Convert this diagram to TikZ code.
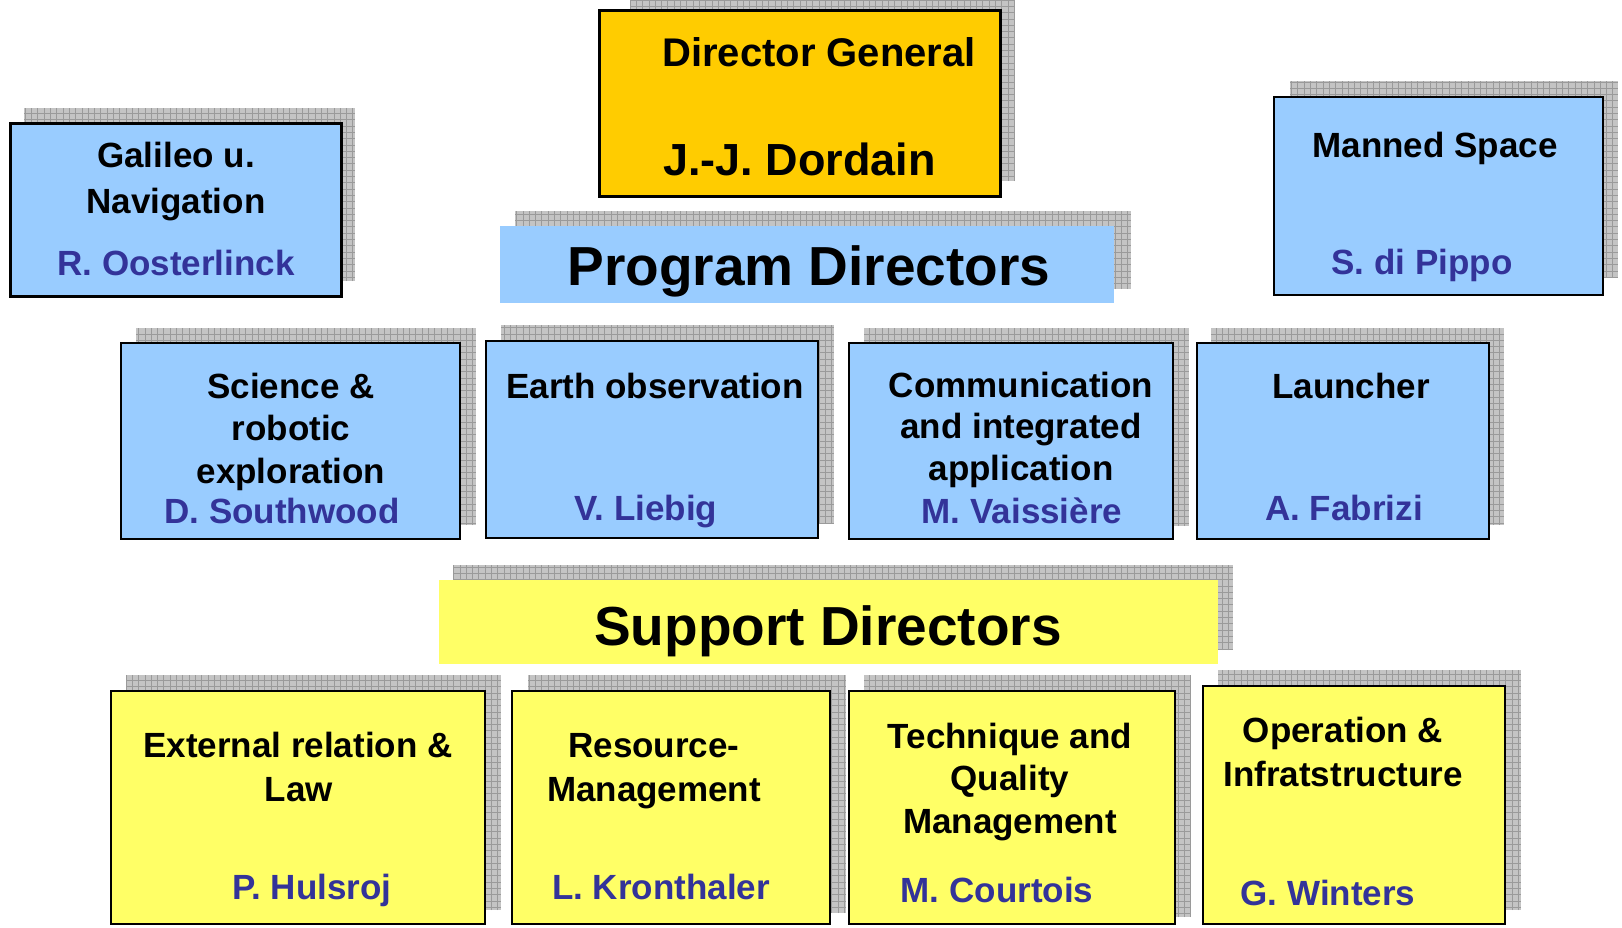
\documentclass[tikz,border=0pt]{standalone}
\usepackage{fontspec}
\setmainfont{Liberation Sans}
\definecolor{boxblue}{HTML}{99CCFF}
\definecolor{boxyellow}{HTML}{FFFF66}
\definecolor{dgorange}{HTML}{FFCC00}
\definecolor{namecol}{HTML}{333399}
\definecolor{shfill}{HTML}{C4C4C4}
\definecolor{shline}{HTML}{9A9A9A}
\newcommand\shbox[4]{%
  \fill[shfill] (#1,#2) rectangle (#3,#4);
  \begin{scope}
    \clip (#1,#2) rectangle (#3,#4);
    \draw[shline, line width=0.7pt, step=6.3pt] (#1,#2) grid (#3,#4);
  \end{scope}}
\tikzset{
  orgbox/.style={rectangle, inner sep=0pt, outer sep=0pt, draw=black, line width=1.8pt},
  bluebox/.style={orgbox, fill=boxblue},
  yelbox/.style={orgbox, fill=boxyellow},
  thickbox/.style={line width=3pt},
  band/.style={rectangle, inner sep=0pt, outer sep=0pt},
  ttl/.style={anchor=base, inner sep=0pt, font=\bfseries\fontsize{35}{42}\selectfont},
  nm/.style={ttl, text=namecol},
  bigttl/.style={anchor=base, inner sep=0pt, font=\bfseries\fontsize{55}{66}\selectfont},
}
\begin{document}
\begin{tikzpicture}[x=1pt,y=-1pt]
\useasboundingbox[fill=white] (0,0) rectangle (1622,927);

% shadows
\shbox{24}{108}{355}{281}
\shbox{630}{0}{1015}{181}
\shbox{1290}{81}{1618}{278}
\shbox{515}{211}{1131}{289}
\shbox{136}{328}{476}{525}
\shbox{501}{325}{834}{523}
\shbox{864}{328}{1189}{526}
\shbox{1211}{328}{1504}{525}
\shbox{453}{565}{1233}{650}
\shbox{126}{675}{501}{910}
\shbox{528}{675}{846}{913}
\shbox{864}{675}{1191}{917}
\shbox{1218}{670}{1521}{910}

% boxes
\node[bluebox, thickbox, minimum width=331pt, minimum height=173pt] (gal) at (175.5,209.5) {};
\node[orgbox, thickbox, fill=dgorange, minimum width=401pt, minimum height=186pt] (dg) at (799.5,103) {};
\node[bluebox, minimum width=329pt, minimum height=198pt] (man) at (1438.5,196) {};
\node[band, fill=boxblue, minimum width=614pt, minimum height=77pt] (prog) at (807,264.5) {};
\node[bluebox, minimum width=339pt, minimum height=196pt] (sci) at (290.5,441) {};
\node[bluebox, minimum width=332pt, minimum height=197pt] (earth) at (652,439.5) {};
\node[bluebox, minimum width=324pt, minimum height=196pt] (comm) at (1011,441) {};
\node[bluebox, minimum width=292pt, minimum height=196pt] (laun) at (1343,441) {};
\node[band, fill=boxyellow, minimum width=779pt, minimum height=84pt] (supp) at (828.5,622) {};
\node[yelbox, minimum width=374pt, minimum height=233pt] (ext) at (298,807.5) {};
\node[yelbox, minimum width=318pt, minimum height=233pt] (res) at (671,807.5) {};
\node[yelbox, minimum width=326pt, minimum height=233pt] (tech) at (1012,807.5) {};
\node[yelbox, minimum width=302pt, minimum height=238pt] (oper) at (1354,805) {};

% texts
\node[ttl] (galA) at (176,167) {Galileo u.};
\node[ttl] (galB) at (176,213) {Navigation};
\node[nm] (galN) at (176,275) {R. Oosterlinck};

\node[anchor=base west, inner sep=0pt, font=\bfseries\fontsize{40}{48}\selectfont] (dgA) at (662,66) {Director General};
\node[anchor=base west, inner sep=0pt, font=\bfseries\fontsize{45}{54}\selectfont] (dgN) at (663,175) {J.-J. Dordain};

\node[ttl] (manA) at (1435,157) {Manned Space};
\node[nm] (manN) at (1422,274) {S. di Pippo};

\node[bigttl] (progT) at (809,285) {Program Directors};

\node[ttl] (sciA) at (291,398) {Science \&};
\node[ttl] (sciB) at (291,440) {robotic};
\node[ttl] (sciC) at (291,483) {exploration};
\node[nm] (sciN) at (282,523) {D. Southwood};

\node[ttl] (earthA) at (655,398) {Earth observation};
\node[nm] (earthN) at (646,520) {V. Liebig};

\node[ttl] (commA) at (1021,397) {Communication};
\node[ttl] (commB) at (1021,438) {and integrated};
\node[ttl] (commC) at (1021,480) {application};
\node[nm] (commN) at (1022,523) {M. Vaissière};

\node[ttl] (launA) at (1351,398) {Launcher};
\node[nm] (launN) at (1344,520) {A. Fabrizi};

\node[bigttl] (suppT) at (828,645) {Support Directors};

\node[ttl] (extA) at (298,757) {External relation \&};
\node[ttl] (extB) at (299,801) {Law};
\node[nm] (extN) at (312,899) {P. Hulsroj};

\node[ttl] (resA) at (654,757) {Resource-};
\node[ttl] (resB) at (654,801) {Management};
\node[nm] (resN) at (661,899) {L. Kronthaler};

\node[ttl] (techA) at (1010,748) {Technique and};
\node[ttl] (techB) at (1010,790) {Quality};
\node[ttl] (techC) at (1010,833) {Management};
\node[nm] (techN) at (997,902) {M. Courtois};

\node[ttl] (operA) at (1343,742) {Operation \&};
\node[ttl] (operB) at (1343,786) {Infratstructure};
\node[nm] (operN) at (1328,905) {G. Winters};
\end{tikzpicture}
\end{document}
